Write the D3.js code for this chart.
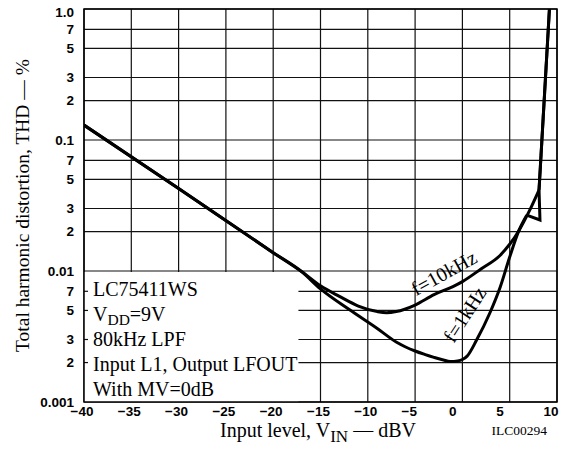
<!DOCTYPE html>
<html><head><meta charset="utf-8">
<script src="https://cdn.jsdelivr.net/npm/d3@7"></script>
<style>body{margin:0;background:#fff}</style>
</head><body>
<svg id="c" width="573" height="455"></svg>
<script>
// ---- data ----
const xTickValues = [-40,-35,-30,-25,-20,-15,-10,-5,0,5,10];
const xTickLabels = ["\u221240","\u221235","\u221230","\u221225","\u221220","\u221215","\u221210","\u22125","0","5","10"];
const yGridValues = [0.001,0.002,0.003,0.005,0.007,0.01,0.02,0.03,0.05,0.07,0.1,0.2,0.3,0.5,0.7,1.0];
const yTickLabels = ["0.001","2","3","5","7","0.01","2","3","5","7","0.1","2","3","5","7","1.0"];

// f = 10 kHz (smooth part, then straight tail)
const vin10k = [-40,-30,-20,-17,-15,-13,-11,-9,-8,-7,-5,-3,-1,0,2,4,5,6,7,8.1];
const thd10k = [0.13,0.0427,0.0138,0.0099,0.0077,0.0064,0.0054,0.0049,0.0048,0.0049,0.0055,0.0066,0.0076,0.0083,0.0104,0.0132,0.016,0.0205,0.028,0.0415];
const vin10kTail = [8.1,9.2];
const thd10kTail = [0.0415,1.0];

// f = 1 kHz
const vin1k = [-40,-30,-20,-17,-15,-12,-9,-7,-6,-5,-4,-3,-2,-1.3,-0.5,0,0.5,1.5,2.9,4,5,6,6.8];
const thd1k = [0.13,0.0427,0.0138,0.0099,0.0073,0.0051,0.00364,0.00287,0.00263,0.00245,0.00231,0.00219,0.00209,0.00204,0.00206,0.00211,0.00224,0.00297,0.00478,0.00755,0.0128,0.0206,0.0267];
const vin1kTail = [6.8,8.2,8.1,9.2];
const thd1kTail = [0.0267,0.0245,0.0415,1.0];

const noteLines = ["LC75411WS","V|DD|=9V","80kHz LPF","Input L1, Output LFOUT","With MV=0dB"];

// ---- layout ----
const W=573,H=455, m={l:84,r:16,t:9,b:53};
const svg=d3.select("#c");
const x=d3.scaleLinear().domain([-40,10]).range([m.l,W-m.r]);
const y=d3.scaleLog().domain([0.001,1]).range([H-m.b,m.t]);
const serif="'Liberation Serif','Times New Roman',serif";
const sans="'Liberation Sans',Arial,sans-serif";

// grid
const g=svg.append("g");
g.selectAll("line.h").data(yGridValues).join("line")
  .attr("x1",m.l).attr("x2",W-m.r).attr("y1",d=>y(d)).attr("y2",d=>y(d))
  .attr("stroke","#111").attr("stroke-width",1.2);
g.selectAll("line.v").data(xTickValues).join("line")
  .attr("x1",d=>x(d)).attr("x2",d=>x(d)).attr("y1",m.t).attr("y2",H-m.b)
  .attr("stroke","#111").attr("stroke-width",1.2);

// note box (white, covers grid)
const noteG=svg.append("g");
const noteRect=noteG.append("rect").attr("fill","#fff");
const notes=noteG.append("g").attr("font-family",serif).attr("font-size",20).attr("fill","#000");
noteLines.forEach((s,i)=>{
  const t=notes.append("text").attr("x",x(-40)+9).attr("y",y(0.01)+24.5+i*25.2);
  const parts=s.split("|");
  if(parts.length===3){
    t.append("tspan").text(parts[0]);
    t.append("tspan").text(parts[1]).attr("font-size",15.5).attr("dy",4);
    t.append("tspan").text(parts[2]).attr("dy",-4);
  } else t.text(s);
});
const bb=notes.node().getBBox();
noteRect.attr("x",x(-40)).attr("y",y(0.01)+1).attr("width",bb.x+bb.width+1-x(-40)).attr("height",y(0.001)-y(0.01)-1);
// small left stubs inside box
noteG.selectAll("line").data([0.002,0.003,0.005,0.007]).join("line")
  .attr("x1",x(-40)).attr("x2",x(-40)+4).attr("y1",d=>y(d)).attr("y2",d=>y(d))
  .attr("stroke","#111").attr("stroke-width",1.2);

// frame
svg.append("rect").attr("x",m.l).attr("y",m.t).attr("width",W-m.l-m.r).attr("height",H-m.t-m.b)
  .attr("fill","none").attr("stroke","#000").attr("stroke-width",1.5);

// curves
svg.append("clipPath").attr("id","cp").append("rect").attr("x",m.l).attr("y",m.t).attr("width",W-m.l-m.r).attr("height",H-m.t-m.b);
const cg=svg.append("g").attr("clip-path","url(#cp)");
const smooth=d3.line().x(d=>x(d[0])).y(d=>y(d[1])).curve(d3.curveMonotoneX);
const straight=d3.line().x(d=>x(d[0])).y(d=>y(d[1]));
const zip=(a,b)=>a.map((v,i)=>[v,b[i]]);
[[vin10k,thd10k,vin10kTail,thd10kTail],[vin1k,thd1k,vin1kTail,thd1kTail]].forEach(([a,b,c,d])=>{
  cg.append("path").attr("d",smooth(zip(a,b))).attr("fill","none").attr("stroke","#000").attr("stroke-width",3).attr("stroke-linejoin","round");
  cg.append("path").attr("d",straight(zip(c,d))).attr("fill","none").attr("stroke","#000").attr("stroke-width",3).attr("stroke-linejoin","miter");
});

// curve labels
svg.append("text").attr("font-family",serif).attr("font-size",20).attr("text-anchor","middle")
  .attr("transform",`translate(${x(-1.6)},${y(0.0087)}) rotate(-29)`).text("f=10kHz");
svg.append("text").attr("font-family",serif).attr("font-size",20).attr("text-anchor","middle")
  .attr("transform",`translate(${x(0.85)},${y(0.00435)}) rotate(-57)`).text("f=1kHz");

// axes tick labels
svg.append("g").selectAll("text").data(yGridValues).join("text")
  .attr("x",m.l-10).attr("y",(d,i)=>y(d)+(i===yGridValues.length-1?3:0)).attr("dy","0.36em")
  .attr("text-anchor","end").attr("font-family",sans).attr("font-weight","bold").attr("font-size",13.5)
  .text((d,i)=>yTickLabels[i]);
svg.append("g").selectAll("text").data(xTickValues).join("text")
  .attr("x",d=>x(d)-13.5).attr("y",H-m.b+14).attr("text-anchor","start")
  .attr("font-family",sans).attr("font-weight","bold").attr("font-size",13.5)
  .text((d,i)=>xTickLabels[i]);

// axis titles
const xt=svg.append("text").attr("x",318).attr("y",437).attr("text-anchor","middle")
  .attr("font-family",serif).attr("font-size",20);
xt.append("tspan").text("Input level, V");
xt.append("tspan").text("IN").attr("dy",5).attr("font-size",17);
xt.append("tspan").text(" \u2014 dBV").attr("dy",-5);
svg.append("text").attr("transform",`translate(29,${(m.t+H-m.b)/2}) rotate(-90)`).attr("text-anchor","middle")
  .attr("font-family",serif).attr("font-size",19.5).text("Total harmonic distortion, THD \u2014 %");
svg.append("text").attr("x",547).attr("y",435).attr("text-anchor","end").attr("font-family",serif).attr("font-size",13.5).text("ILC00294");
</script>
</body></html>
